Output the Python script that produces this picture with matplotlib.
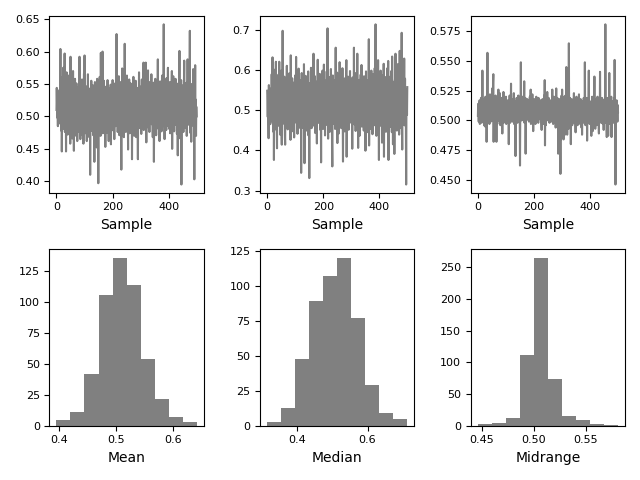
"""Mean / median / midrange of 500 samples: traces on top, histograms below."""

import matplotlib
matplotlib.use("Agg")
import matplotlib.pyplot as plt
from matplotlib.ticker import MaxNLocator
import numpy as np

# per-sample values, in thousandths (0.510 -> 510)
MEAN_MILLI = [
    510, 544, 521, 498, 512, 485, 530, 502, 517, 489, 526, 541, 495, 520, 604, 507, 533, 478, 524, 446,
    515, 560, 492, 538, 575, 481, 519, 547, 503, 597, 476, 529, 512, 555, 446, 521, 568, 490, 535, 508,
    472, 547, 518, 493, 563, 501, 484, 536, 515, 458, 592, 497, 525, 479, 549, 511, 466, 533, 504, 570,
    489, 521, 447, 542, 510, 495, 558, 482, 527, 513, 470, 551, 498, 536, 462, 519, 545, 487, 508, 531,
    476, 504, 592, 493, 528, 465, 512, 548, 499, 534, 481, 557, 516, 471, 523, 540, 458, 511, 566, 497,
    594, 485, 520, 503, 547, 474, 531, 509, 462, 538, 515, 490, 565, 482, 526, 497, 543, 468, 514, 529,
    410, 517, 539, 492, 555, 506, 478, 532, 486, 521, 548, 471, 509, 536, 495, 430, 527, 553, 484, 512,
    467, 540, 501, 524, 452, 558, 489, 515, 532, 397, 508, 545, 479, 520, 561, 493, 527, 470, 598, 505,
    538, 486, 519, 549, 600, 474, 528, 496, 513, 555, 481, 524, 502, 539, 453, 517, 490, 546, 509, 475,
    531, 498, 556, 484, 521, 507, 462, 543, 515, 489, 534, 470, 526, 549, 457, 512, 538, 495, 520, 483,
    556, 501, 527, 478, 544, 512, 465, 533, 496, 551, 519, 485, 537, 503, 627, 491, 528, 547, 476, 514,
    539, 494, 562, 508, 471, 525, 543, 487, 516, 553, 499, 418, 531, 512, 574, 480, 522, 546, 495, 529,
    468, 535, 504, 612, 490, 521, 547, 476, 513, 538, 497, 563, 482, 519, 506, 449, 541, 527, 493, 557,
    509, 474, 532, 518, 551, 487, 523, 500, 545, 434, 515, 539, 483, 526, 561, 495, 511, 470, 548, 503,
    529, 486, 555, 512, 468, 537, 498, 521, 544, 479, 434, 516, 533, 491, 568, 507, 524, 482, 546, 511,
    495, 538, 473, 520, 557, 502, 531, 488, 549, 515, 583, 479, 527, 543, 496, 518, 561, 485, 583, 506,
    460, 534, 512, 548, 491, 526, 571, 483, 519, 502, 553, 476, 537, 509, 528, 494, 547, 513, 565, 488,
    522, 541, 497, 468, 530, 515, 552, 430, 506, 539, 484, 523, 558, 499, 517, 471, 544, 510, 533, 492,
    527, 588, 503, 481, 546, 519, 535, 462, 512, 554, 495, 528, 508, 541, 477, 520, 563, 500, 536, 485,
    514, 549, 642, 497, 531, 465, 523, 545, 490, 516, 538, 479, 559, 507, 526, 486, 541, 575, 502, 519,
    547, 481, 528, 510, 553, 474, 533, 499, 521, 486, 544, 570, 450, 518, 536, 493, 562, 509, 526, 477,
    515, 541, 496, 529, 558, 487, 520, 504, 547, 473, 535, 512, 440, 526, 551, 490, 518, 543, 601, 498,
    524, 466, 537, 509, 556, 395, 521, 548, 484, 530, 503, 539, 476, 517, 560, 586, 494, 527, 511, 545,
    482, 533, 518, 552, 470, 526, 505, 588, 492, 539, 514, 563, 487, 528, 546, 632, 475, 512, 535, 498,
    461, 527, 550, 508, 486, 541, 519, 573, 493, 530, 512, 403, 547, 504, 579, 488, 526, 470, 515, 500,
]

MEDIAN_MILLI = [
    548, 521, 483, 535, 497, 430, 562, 508, 479, 541, 516, 465, 553, 498, 527, 472, 589, 505, 540, 631,
    494, 557, 446, 601, 376, 528, 485, 563, 511, 452, 547, 620, 489, 536, 468, 405, 572, 503, 529, 461,
    588, 519, 477, 620, 498, 545, 439, 566, 512, 483, 598, 456, 414, 541, 507, 697, 475, 530, 492, 551,
    466, 583, 509, 438, 414, 556, 497, 529, 471, 544, 610, 488, 523, 452, 574, 505, 538, 463, 591, 517,
    479, 548, 503, 426, 636, 492, 561, 514, 447, 579, 522, 485, 537, 459, 568, 509, 432, 553, 496, 541,
    474, 587, 513, 632, 468, 529, 495, 562, 441, 518, 551, 486, 603, 507, 456, 539, 574, 482, 527, 463,
    548, 344, 511, 592, 478, 533, 456, 569, 503, 542, 487, 614, 521, 368, 497, 556, 472, 585, 518, 449,
    536, 491, 573, 464, 528, 505, 596, 437, 552, 483, 331, 519, 567, 498, 541, 476, 605, 512, 455, 547,
    489, 578, 523, 461, 534, 640, 497, 551, 472, 516, 584, 443, 529, 502, 563, 486, 538, 417, 571, 509,
    625, 482, 544, 513, 468, 557, 496, 590, 527, 451, 539, 505, 370, 562, 487, 531, 476, 598, 514, 453,
    546, 492, 613, 468, 525, 558, 437, 573, 508, 482, 541, 519, 596, 463, 535, 703, 497, 429, 556, 511,
    474, 582, 527, 446, 563, 495, 537, 602, 469, 519, 548, 418, 360, 541, 586, 502, 466, 557, 521, 489,
    574, 507, 453, 536, 655, 483, 548, 516, 462, 593, 418, 529, 497, 571, 441, 545, 510, 483, 619, 526,
    468, 554, 501, 587, 455, 532, 513, 476, 604, 498, 372, 543, 521, 489, 566, 508, 447, 579, 532, 462,
    517, 558, 624, 384, 495, 541, 506, 472, 583, 528, 451, 566, 493, 536, 513, 597, 469, 545, 487, 524,
    559, 498, 536, 404, 581, 516, 471, 549, 502, 655, 487, 538, 463, 592, 519, 448, 566, 505, 531, 478,
    545, 640, 492, 527, 406, 561, 509, 483, 575, 436, 541, 514, 468, 588, 500, 533, 612, 459, 526, 497,
    562, 475, 538, 511, 449, 584, 503, 527, 468, 551, 399, 519, 596, 487, 539, 462, 574, 508, 531, 445,
    493, 557, 676, 412, 528, 485, 569, 514, 453, 546, 501, 598, 472, 535, 517, 440, 589, 506, 543, 479,
    527, 561, 488, 604, 462, 539, 713, 495, 552, 436, 518, 577, 481, 546, 503, 624, 467, 531, 376, 589,
    512, 473, 548, 527, 598, 461, 535, 492, 571, 419, 543, 508, 586, 479, 526, 615, 384, 554, 498, 537,
    469, 582, 515, 446, 561, 503, 529, 487, 604, 452, 541, 622, 376, 519, 566, 493, 535, 458, 583, 510,
    547, 480, 597, 524, 445, 633, 501, 538, 415, 569, 512, 486, 548, 391, 527, 575, 496, 640, 463, 530,
    505, 587, 449, 542, 517, 614, 476, 533, 498, 562, 439, 521, 647, 484, 549, 510, 573, 455, 535, 692,
    468, 402, 556, 519, 592, 487, 541, 503, 628, 462, 526, 578, 495, 534, 470, 315, 509, 552, 488, 557,
]

MIDRANGE_MILLI = [
    504, 514, 509, 499, 512, 503, 517, 497, 508, 513, 501, 519, 506, 498, 511, 504, 542, 510, 500, 515,
    507, 512, 496, 518, 505, 495, 510, 520, 502, 509, 514, 482, 506, 511, 557, 503, 498, 516, 508, 501,
    513, 497, 509, 522, 504, 511, 499, 517, 506, 514, 500, 527, 508, 503, 532, 539, 482, 510, 518, 505,
    498, 512, 507, 521, 502, 515, 482, 509, 513, 497, 519, 504, 511, 526, 500, 508, 516, 503, 523, 510,
    496, 514, 506, 512, 501, 519, 507, 489, 510, 516, 503, 524, 498, 511, 505, 517, 509, 500, 513, 506,
    520, 497, 511, 504, 515, 508, 499, 517, 506, 512, 480, 510, 503, 521, 507, 498, 514, 509, 531, 501,
    512, 505, 518, 499, 510, 515, 502, 508, 523, 497, 513, 506, 511, 500, 470, 516, 504, 509, 519, 503,
    510, 498, 514, 507, 521, 502, 512, 499, 515, 508, 462, 511, 504, 549, 506, 517, 500, 513, 507, 520,
    501, 509, 516, 503, 512, 533, 498, 510, 506, 519, 472, 507, 514, 500, 511, 505, 518, 502, 509, 513,
    504, 517, 499, 511, 507, 520, 503, 512, 526, 497, 510, 515, 501, 508, 522, 505, 513, 491, 509, 516,
    502, 511, 518, 504, 509, 497, 514, 506, 520, 500, 512, 507, 516, 503, 510, 498, 519, 505, 511, 508,
    515, 501, 509, 517, 504, 512, 499, 492, 510, 506, 518, 503, 511, 497, 514, 508, 521, 502, 534, 479,
    509, 513, 496, 518, 505, 511, 500, 524, 507, 514, 501, 510, 519, 503, 508, 498, 516, 506, 512, 502,
    517, 504, 510, 499, 513, 526, 506, 511, 497, 515, 503, 520, 508, 500, 514, 505, 518, 494, 509, 527,
    502, 512, 506, 519, 498, 510, 472, 515, 504, 511, 518, 500, 508, 496, 455, 513, 484, 507, 521, 503,
    526, 498, 511, 505, 517, 484, 509, 520, 502, 514, 488, 508, 521, 497, 512, 545, 504, 519, 488, 510,
    500, 516, 507, 493, 565, 503, 511, 498, 519, 506, 513, 480, 509, 502, 518, 505, 496, 512, 507, 515,
    501, 510, 523, 498, 513, 506, 517, 503, 490, 511, 505, 520, 499, 512, 508, 496, 516, 504, 511, 507,
    522, 500, 514, 506, 497, 511, 518, 503, 509, 494, 513, 488, 507, 516, 501, 510, 505, 519, 498, 512,
    504, 549, 508, 496, 515, 502, 511, 507, 519, 483, 510, 500, 514, 506, 521, 542, 509, 503, 497, 512,
    505, 516, 499, 510, 487, 513, 506, 520, 502, 491, 511, 508, 517, 499, 512, 537, 504, 509, 493, 514,
    503, 518, 507, 496, 511, 505, 520, 500, 509, 514, 502, 489, 517, 506, 499, 541, 510, 504, 515, 498,
    512, 506, 519, 501, 510, 497, 516, 508, 492, 513, 503, 518, 509, 500, 581, 511, 498, 514, 505, 486,
    510, 519, 502, 508, 487, 513, 499, 516, 540, 505, 511, 497, 514, 503, 509, 520, 486, 507, 512, 501,
    516, 505, 498, 511, 507, 519, 503, 551, 509, 514, 446, 512, 500, 508, 517, 504, 510, 499, 513, 507,
]

# histogram counts per bin (10 equal bins between min and max)
MEAN_COUNTS = [5, 11, 42, 106, 136, 114, 54, 22, 7, 3]
MEDIAN_COUNTS = [3, 13, 48, 89, 107, 120, 77, 29, 9, 5]
MIDRANGE_COUNTS = [3, 5, 12, 112, 265, 74, 16, 9, 3, 1]

STATS = [
    ("Mean", MEAN_MILLI, MEAN_COUNTS),
    ("Median", MEDIAN_MILLI, MEDIAN_COUNTS),
    ("Midrange", MIDRANGE_MILLI, MIDRANGE_COUNTS),
]


def main():
    fig, axes = plt.subplots(2, 3, figsize=(6.4, 4.8), dpi=100)

    for col, (name, milli, counts) in enumerate(STATS):
        values = np.array(milli) / 1000.0

        ax = axes[0, col]
        ax.plot(values, color="grey")
        ax.set_xlabel("Sample")
        ax.tick_params(labelsize=8)

        edges = np.linspace(values.min(), values.max(), len(counts) + 1)
        ax = axes[1, col]
        ax.hist(edges[:-1], bins=edges, weights=counts, color="grey")
        ax.set_xlabel(name)
        ax.tick_params(labelsize=8)
        ax.yaxis.set_major_locator(MaxNLocator(nbins=6))

    plt.tight_layout()
    plt.savefig("out.png", dpi=100)
    plt.close()


if __name__ == "__main__":
    main()
